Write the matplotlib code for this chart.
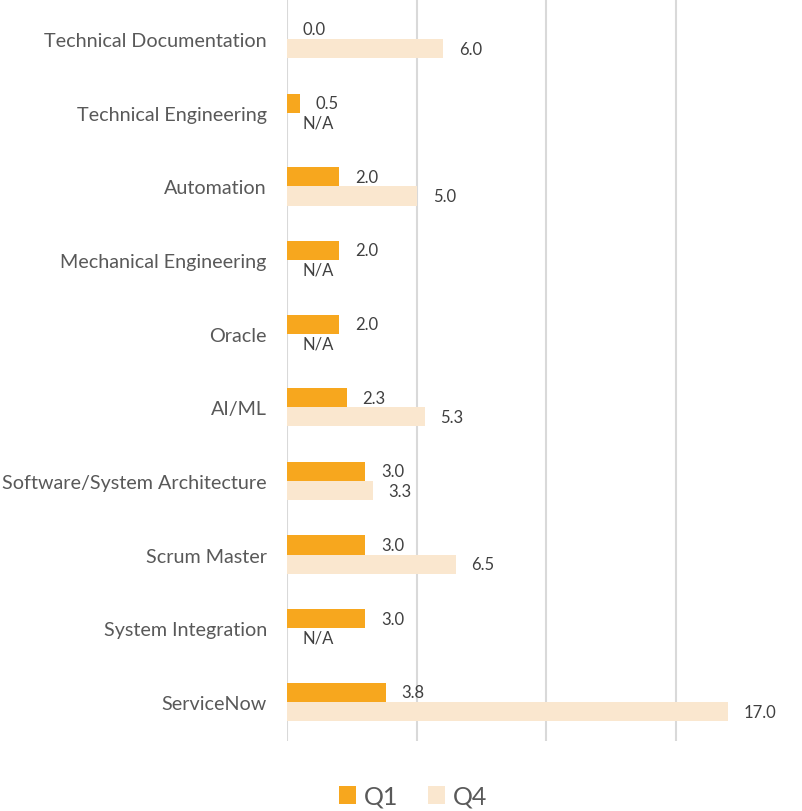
import numpy as np
import matplotlib.pyplot as plt

categories = ["Technical Documentation", "Technical Engineering", "Automation",
              "Mechanical Engineering", "Oracle", "AI/ML",
              "Software/System Architecture", "Scrum Master",
              "System Integration", "ServiceNow"]
q1 = [0.0, 0.5, 2.0, 2.0, 2.0, 2.3, 3.0, 3.0, 3.0, 3.8]
q4 = [6.0, None, 5.0, None, None, 5.3, 3.3, 6.5, None, 17.0]

c_q1 = "#F7A71E"
c_q4 = "#FAE7CF"

plt.rcParams['font.family'] = ['Lato', 'DejaVu Sans']

fig = plt.figure(figsize=(8.03, 8.12), dpi=100)
ax = fig.add_axes([287 / 803, 70 / 812, 467 / 803, 741 / 812])

y = np.arange(len(categories))
h = 0.26
q4_vals = [v if v is not None else 0 for v in q4]
ax.barh(y - h / 2, q1, height=h, color=c_q1, label="Q1", zorder=3)
ax.barh(y + h / 2, q4_vals, height=h, color=c_q4, label="Q4", zorder=3)

for i in range(len(categories)):
    ax.annotate(f"{q1[i]:.1f}", (q1[i], y[i] - h / 2), xytext=(11.5, 0),
                textcoords="offset points", va="center", ha="left",
                fontsize=12, color="#404040")
    lab = "N/A" if q4[i] is None else f"{q4[i]:.1f}"
    ax.annotate(lab, (q4_vals[i], y[i] + h / 2), xytext=(11.5, 0),
                textcoords="offset points", va="center", ha="left",
                fontsize=12, color="#404040")

ax.set_xlim(0, 18)
ax.set_ylim(len(categories) - 0.47, -0.53)
ax.set_xticks([0, 5, 10, 15])
ax.set_xticklabels([])
ax.set_yticks(y)
ax.set_yticklabels(categories, fontsize=14.2, color="#595959")
ax.tick_params(length=0, pad=14.5)
ax.grid(axis="x", color="#D9D9D9", linewidth=1.5, zorder=0)
for s in ax.spines.values():
    s.set_visible(False)

fig.legend(loc="center", bbox_to_anchor=(413 / 803, 1 - 797 / 812), ncol=2,
           frameon=False, fontsize=18, handlelength=0.7, handleheight=0.7,
           handletextpad=0.3, columnspacing=1.2, labelcolor="#595959")

fig.savefig("out.png", dpi=100)
